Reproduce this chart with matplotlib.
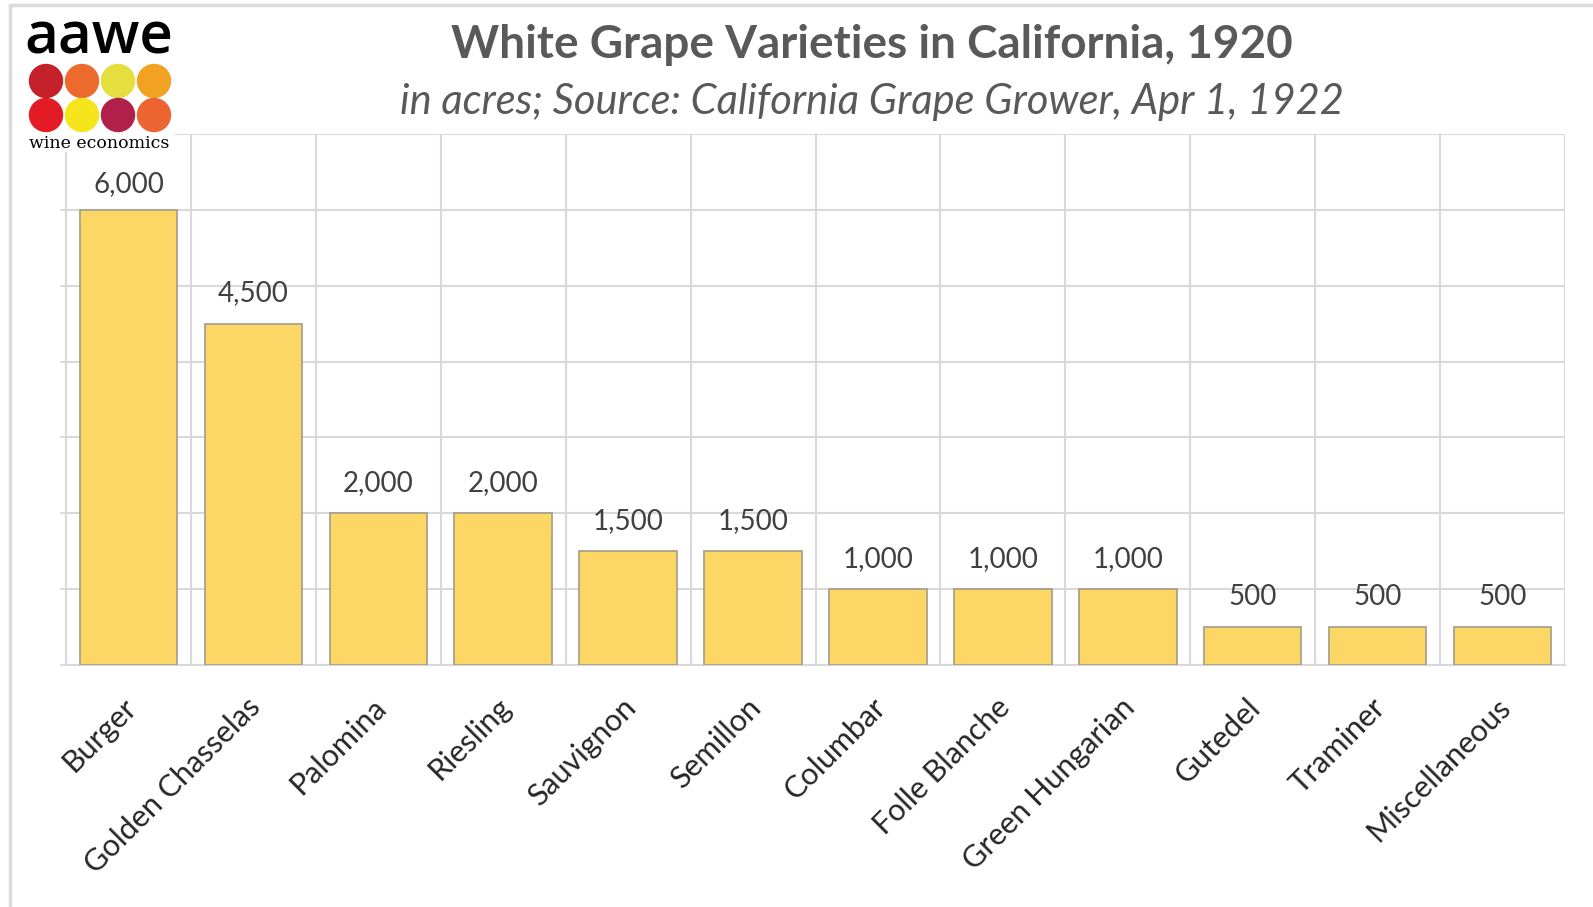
import matplotlib.pyplot as plt
import matplotlib.transforms as mtransforms
from matplotlib.patches import Circle, Rectangle

varieties = ["Burger", "Golden Chasselas", "Palomina", "Riesling", "Sauvignon",
             "Semillon", "Columbar", "Folle Blanche", "Green Hungarian",
             "Gutedel", "Traminer", "Miscellaneous"]
acres = [6000, 4500, 2000, 2000, 1500, 1500, 1000, 1000, 1000, 500, 500, 500]

logo_colors = ["#C4212B", "#EC6B2C", "#E4DF3E", "#F2A223",
               "#E31B25", "#F6E41D", "#B11F4B", "#EB6431"]

W, H = 1593, 907
fig = plt.figure(figsize=(W / 100, H / 100), dpi=100)
plt.rcParams['font.family'] = ['Lato', 'DejaVu Sans']

grid_c = "#D9D9D9"
ax = fig.add_axes([66 / W, 1 - 665 / H, (1565 - 66) / W, (665 - 134) / H])
x = list(range(len(varieties)))
bars = ax.bar(x, acres, width=0.78, color="#FDD766", edgecolor="#A8A28C",
              linewidth=1.3, zorder=3)
ax.set_xlim(-0.5, len(varieties) - 0.5)
ax.set_ylim(0, 7000)
ax.set_yticks(range(0, 7001, 1000))
ax.set_yticklabels([])
ax.tick_params(axis="y", length=4, color=grid_c, width=1.3)
ax.set_xticks(x)
ax.set_xticklabels(varieties, rotation=45, ha="right", rotation_mode="anchor",
                   fontsize=22, color="#262626")
ax.tick_params(axis="x", length=0, pad=20)
shift = mtransforms.ScaledTranslation(-7 / 100, 0, fig.dpi_scale_trans)
for lbl in ax.get_xticklabels():
    lbl.set_transform(lbl.get_transform() + shift)
ax.grid(axis="y", color=grid_c, linewidth=1.5, zorder=0)
for b in range(len(varieties) + 1):
    ax.axvline(b - 0.5, color=grid_c, linewidth=1.5, zorder=0)
for s in ["top", "right"]:
    ax.spines[s].set_visible(False)
for s in ["left", "bottom"]:
    ax.spines[s].set_color(grid_c)
    ax.spines[s].set_linewidth(1.5)

for xi, v in zip(x, acres):
    off = 9 if v > 5500 else 12.5
    ax.annotate(f"{v:,}", (xi, v), xytext=(0, off), textcoords="offset points",
                ha="center", va="bottom", fontsize=20, color="#404040")

fig.text(872 / W, 1 - 45 / H, "White Grape Varieties in California, 1920",
         ha="center", va="center", fontsize=33, fontweight="bold", color="#595959")
fig.text(872 / W, 1 - 102 / H, "in acres; Source: California Grape Grower, Apr 1, 1922",
         ha="center", va="center", fontsize=30, style="italic", color="#595959")

# figure frame
fig.add_artist(Rectangle((10 / W, -0.01), 1.1, 1 - 5 / H + 0.01, transform=fig.transFigure,
                         fill=False, edgecolor="#DADADA", linewidth=2.5))

# logo
lax = fig.add_axes([10 / W, 1 - 152 / H, 165 / W, 147 / H])
lax.set_xlim(10, 175)
lax.set_ylim(152, 5)
lax.set_facecolor("white")
lax.set_xticks([])
lax.set_yticks([])
for s in lax.spines.values():
    s.set_visible(False)
lax.text(99, 38, "aawe", ha="center", va="center", fontsize=42, color="black",
         family="Open Sans", fontweight="semibold")
xs = [46, 82, 118, 154]
for i, c in enumerate(logo_colors):
    lax.add_patch(Circle((xs[i % 4], 81 if i < 4 else 115), 16.5, color=c))
lax.text(99, 143, "wine economics", ha="center", va="center", fontsize=12.5,
         color="black", family="DejaVu Serif")

fig.savefig("out.png", dpi=100)
